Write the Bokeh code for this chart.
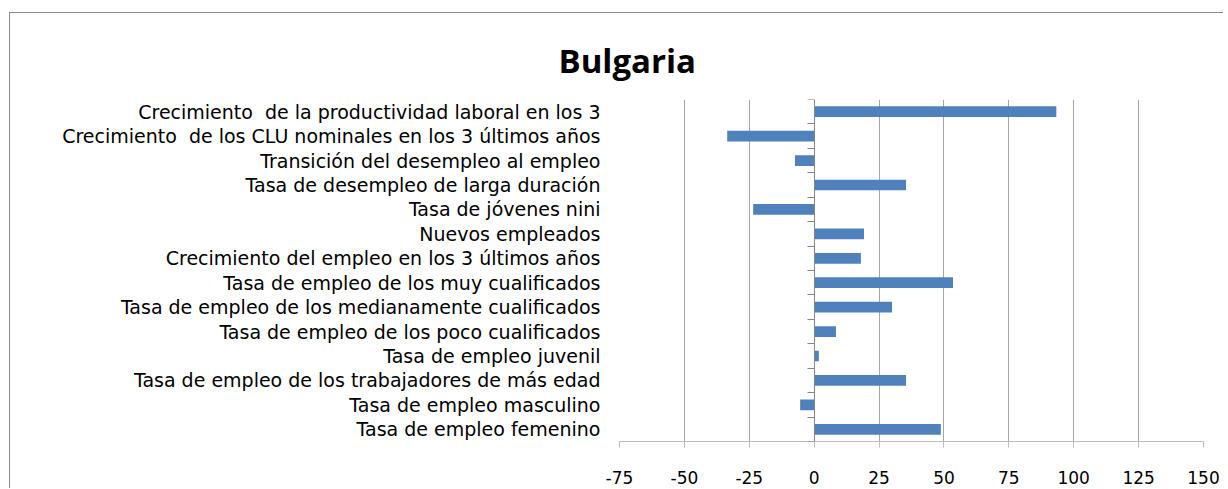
from bokeh.plotting import figure
from bokeh.models import LinearAxis, FixedTicker, Range1d, Title
from bokeh.embed import file_html
from bokeh.resources import INLINE

title_text = "Bulgaria"
categories = [
    "Crecimiento\u00a0 de la productividad laboral en los 3",
    "Crecimiento\u00a0 de los CLU nominales en los 3 últimos años",
    "Transición del desempleo al empleo",
    "Tasa de desempleo de larga duración",
    "Tasa de jóvenes nini",
    "Nuevos empleados",
    "Crecimiento del empleo en los 3 últimos años",
    "Tasa de empleo de los muy cualificados",
    "Tasa de empleo de los medianamente cualificados",
    "Tasa de empleo de los poco cualificados",
    "Tasa de empleo juvenil",
    "Tasa de empleo de los trabajadores de más edad",
    "Tasa de empleo masculino",
    "Tasa de empleo femenino",
]
values = [93.3, -33.5, -7.4, 35.4, -23.5, 19.2, 18.0, 53.5, 30.0, 8.4, 1.8, 35.4, -5.4, 48.8]
x_ticks = [-75, -50, -25, 0, 25, 50, 75, 100, 125, 150]

n = len(categories)
centers = [n - 1 - i + 0.5 for i in range(n)]
boundaries = list(range(n + 1))

W, H = 1214, 476
p = figure(width=W, height=H,
           x_range=Range1d(x_ticks[0], x_ticks[-1]),
           y_range=Range1d(0, n),
           output_backend="svg", toolbar_location=None,
           y_axis_location=None,
           min_border_left=609, min_border_right=W - 1193,
           min_border_top=86, min_border_bottom=H - 428)
p.styles = {"border-left": "1px solid #8c8c8c", "border-top": "1px solid #8c8c8c",
            "margin-top": "12px", "margin-left": "9px"}
p.outline_line_color = None
p.background_fill_color = "white"
p.border_fill_color = "white"

# title
p.title = Title(text=title_text, align="left", offset=-61, standoff=34,
                vertical_align="bottom",
                text_font="Open Sans", text_font_size="33px", text_font_style="bold",
                text_color="black")

# x axis
xa = p.xaxis[0]
xa.ticker = FixedTicker(ticks=x_ticks)
xa.major_label_overrides = {t: str(t) for t in x_ticks}
xa.axis_line_color = "#BDBDBD"
xa.major_tick_line_color = "#BDBDBD"
xa.major_tick_out = 6
xa.major_tick_in = 0
xa.minor_tick_line_color = None
xa.major_label_standoff = 23
xa.major_label_text_font = "DejaVu Sans"
xa.major_label_text_font_size = "17px"
xa.major_label_text_color = "black"

p.xgrid.ticker = FixedTicker(ticks=x_ticks)
p.xgrid.grid_line_color = "#A6A6A6"
p.ygrid.visible = False

# category labels
cat_axis = LinearAxis(ticker=FixedTicker(ticks=centers),
                      major_label_overrides={c: lab for c, lab in zip(centers, categories)},
                      axis_line_color=None, major_tick_line_color=None,
                      minor_tick_line_color=None, major_tick_out=0, major_tick_in=0,
                      major_label_standoff=19,
                      major_label_text_font="DejaVu Sans",
                      major_label_text_font_size="19px",
                      major_label_text_color="black")
p.add_layout(cat_axis, "left")

# zero axis with category boundary ticks
zero_axis = LinearAxis(fixed_location=0, ticker=FixedTicker(ticks=boundaries),
                       major_label_overrides={b: "" for b in boundaries},
                       axis_line_color="#868686", major_tick_line_color="#868686",
                       minor_tick_line_color=None, major_tick_out=7, major_tick_in=0,
                       major_label_text_font_size="1px")
p.add_layout(zero_axis, "left")

p.hbar(y=centers, left=0, right=values, height=0.44, fill_color="#4F81BD", line_color=None)

open("out.html", "w").write(file_html(p, INLINE))
